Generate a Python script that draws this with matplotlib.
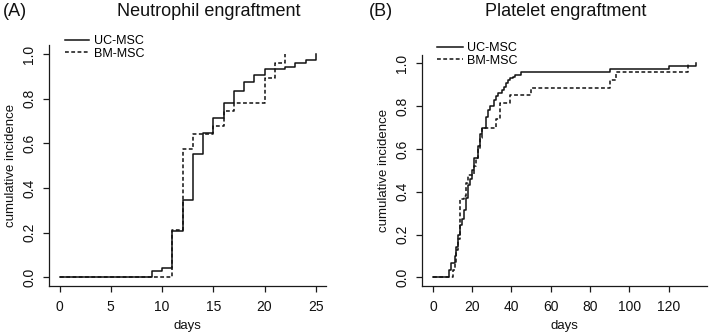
import matplotlib
matplotlib.use("Agg")
import matplotlib.pyplot as plt

plt.rcParams['font.family'] = ['Liberation Sans', 'DejaVu Sans']

# neutrophil engraftment (A)
neu_uc_days = [0, 9, 10, 11, 12, 13, 14, 15, 16, 17, 18, 19, 20, 22, 23, 24, 25]
neu_uc_vals = [0, 0.027, 0.04, 0.205, 0.347, 0.553, 0.646, 0.716, 0.783, 0.837,
               0.877, 0.907, 0.933, 0.945, 0.96, 0.973, 1.0]
neu_bm_days = [0, 11, 12, 13, 15, 16, 17, 20, 21, 22]
neu_bm_vals = [0, 0.212, 0.574, 0.641, 0.679, 0.747, 0.783, 0.892, 0.963, 1.0]

# platelet engraftment (B)
plt_uc_days = [0, 8, 9, 11, 12, 13, 14, 15, 16, 17, 18, 19, 20, 21, 23, 24, 25,
               27, 28, 29, 31, 32, 33, 35, 36, 37, 38, 39, 41, 42, 45, 90, 120, 134]
plt_uc_vals = [0, 0.036, 0.067, 0.10, 0.14, 0.20, 0.245, 0.275, 0.315, 0.37, 0.43,
               0.46, 0.50, 0.56, 0.615, 0.67, 0.70, 0.75, 0.78, 0.80, 0.83, 0.845,
               0.86, 0.875, 0.89, 0.91, 0.92, 0.93, 0.935, 0.945, 0.96, 0.972,
               0.986, 1.0]
plt_bm_days = [0, 10, 11, 12, 13, 14, 16, 17, 18, 21, 22, 23, 24, 25, 32, 34, 39,
               50, 90, 93, 130]
plt_bm_vals = [0, 0.035, 0.07, 0.13, 0.18, 0.365, 0.38, 0.44, 0.48, 0.52, 0.56,
               0.60, 0.65, 0.70, 0.74, 0.815, 0.85, 0.885, 0.92, 0.96, 1.0]

neu_xticks = [0, 5, 10, 15, 20, 25]
plt_xticks = [0, 20, 40, 60, 80, 100, 120]
yticks = [0.0, 0.2, 0.4, 0.6, 0.8, 1.0]
labels = ["UC-MSC", "BM-MSC"]

W, H = 709, 333
fig = plt.figure(figsize=(W / 100, H / 100), dpi=100)

def px_axes(left, top, right, bottom):
    return fig.add_axes([left / W, 1 - bottom / H, (right - left) / W, (bottom - top) / H])

ax1 = px_axes(49.3, 45.4, 326, 286)
ax2 = px_axes(422.3, 54.7, 706.7, 286)

dash = (0, (2.5, 1.6))
lw = 1.1
ax1.step(neu_uc_days, neu_uc_vals, where='post', color='#111111', lw=lw, label=labels[0])
ax1.step(neu_bm_days, neu_bm_vals, where='post', color='#111111', lw=lw, ls=dash, label=labels[1])
ax2.step(plt_uc_days, plt_uc_vals, where='post', color='#111111', lw=lw, label=labels[0])
ax2.step(plt_bm_days, plt_bm_vals, where='post', color='#111111', lw=lw, ls=dash, label=labels[1])

ax1.set_xlim(-1, 26)
ax2.set_xlim(-5.4, 139.4)

for ax, xt, fs in [(ax1, neu_xticks, 10), (ax2, plt_xticks, 10)]:
    ax.set_ylim(-0.04, 1.04)
    ax.set_xticks(xt)
    ax.set_yticks(yticks)
    ax.set_yticklabels([f"{v:.1f}" for v in yticks])
    for s in ['top', 'right']:
        ax.spines[s].set_visible(False)
    for s in ['left', 'bottom']:
        ax.spines[s].set_linewidth(0.9)
        ax.spines[s].set_color('#1a1a1a')
    ax.tick_params(length=4.3, width=0.9, color='#1a1a1a', labelsize=fs, pad=6,
                   labelcolor='#111111')
    ax.tick_params(axis='y', labelrotation=90, pad=5)
    for t in ax.get_yticklabels():
        t.set_va('center')
    ax.set_xlabel("days", fontsize=9.5, labelpad=4, color='#111111')
    ax.set_ylabel("cumulative incidence", fontsize=9.5, labelpad=4, color='#111111')

ax1.legend(loc='upper left', bbox_to_anchor=(65 / W, 1 - 35 / H), bbox_transform=fig.transFigure,
           frameon=False, fontsize=9, borderpad=0, borderaxespad=0, handlelength=1.9,
           handletextpad=0.45, labelspacing=0.05)
ax2.legend(loc='upper left', bbox_to_anchor=(437 / W, 1 - 42 / H), bbox_transform=fig.transFigure,
           frameon=False, fontsize=9, borderpad=0, borderaxespad=0, handlelength=2.1,
           handletextpad=0.3, labelspacing=0.05)

fig.text(3 / W, 1 - 12 / H, "(A)", fontsize=13, va='center', ha='left', color='#111111')
fig.text(209 / W, 1 - 12 / H, "Neutrophil engraftment", fontsize=13, va='center', ha='center',
         color='#111111')
fig.text(369 / W, 1 - 12 / H, "(B)", fontsize=13, va='center', ha='left', color='#111111')
fig.text(566 / W, 1 - 12 / H, "Platelet engraftment", fontsize=13, va='center', ha='center',
         color='#111111')

fig.savefig("out.png", dpi=100)
